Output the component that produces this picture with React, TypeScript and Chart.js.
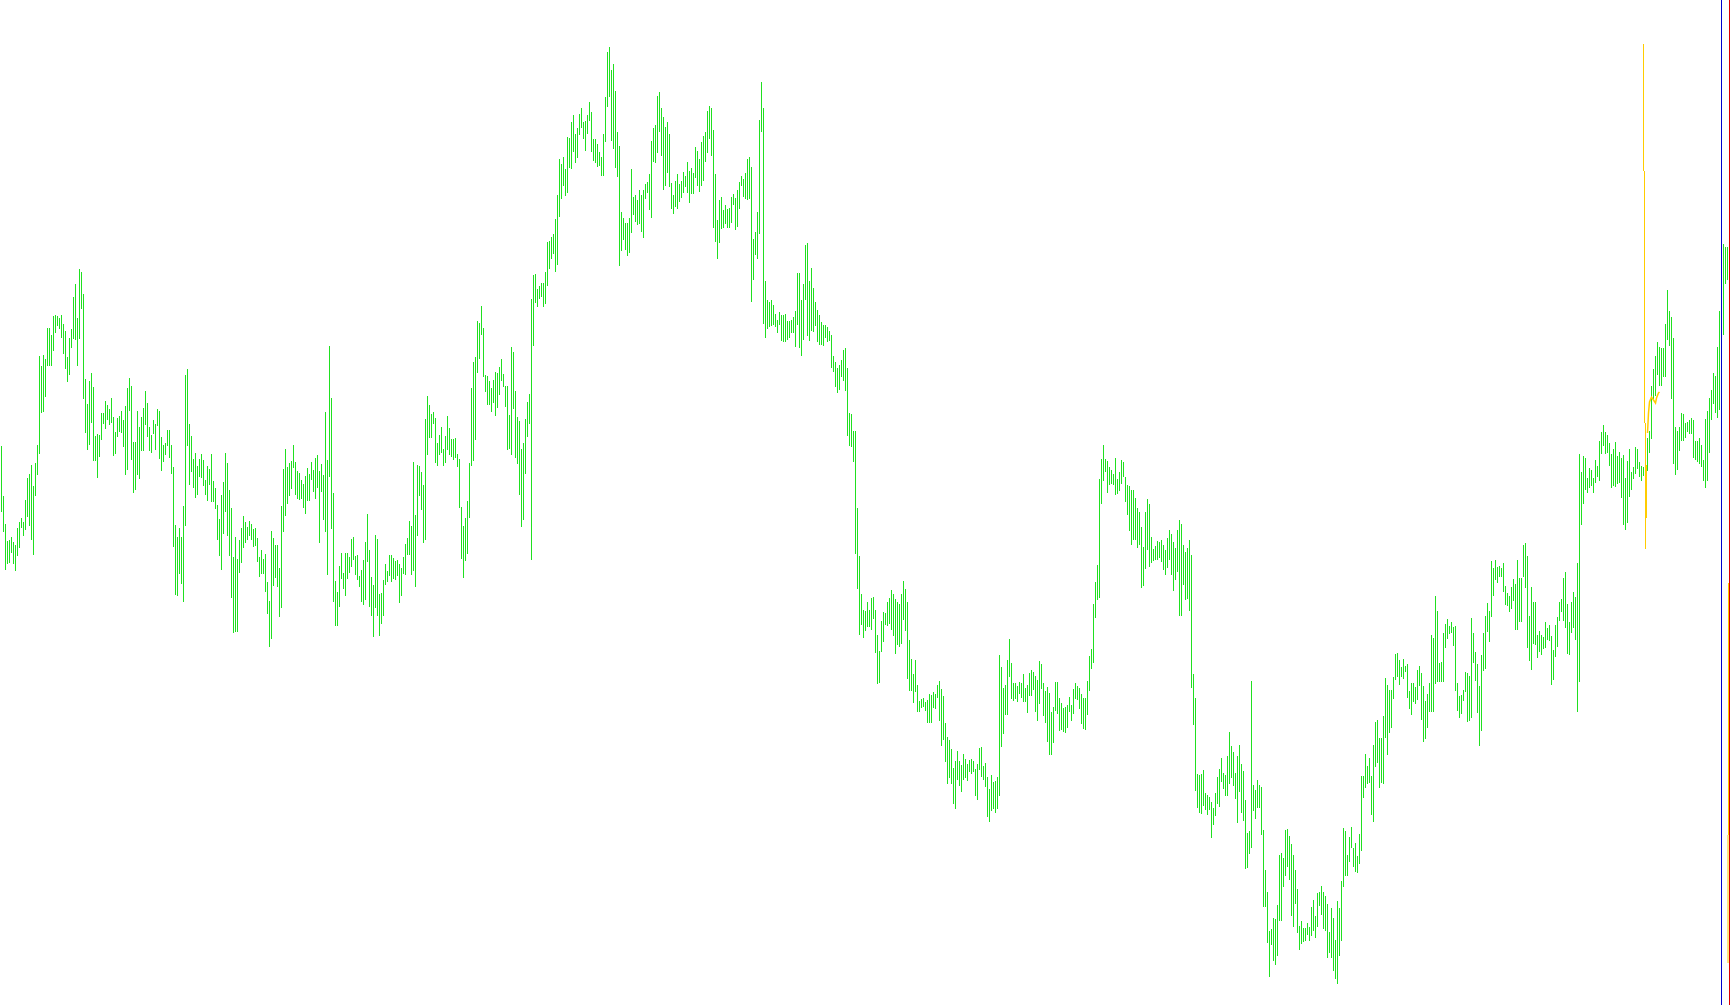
import React, { useEffect, useRef } from "react";
import { Chart, registerables } from "chart.js";

Chart.register(...registerables);

// ---- Bar highs / lows (price points), read left to right, one bar every 2px ----
const highs1 = [554,504,476,459,460,463,458,455,472,478,482,478,500,522,526,535,514,537,555,644,634,645,641,672,672,665,684,685,684,682,685,676,669,643,662,671,703,716,682,731,728,706,621,596,619,627,613,564,566,565,587,587,599,595,591,602,583,568,582,584,589,580,594,612,622,614,558,558,589,573,583,592,609,597,573,565,580,576,591,589,563,555,557,570,570,555,533,475,463,472,463,494,625,631,576,564,541,547,534,541,546,540,520,534,531,546,519,512,495,481,505,518,547,537,510,492,443,463,441,460,472,484,478,473,479,476,471,472,462,443,450,441,446,418,399,469,462,455,455,432,494,531,551,533,537];
const lows1 = [488,468,430,436,437,447,436,429,444,452,472,464,470,483,474,460,445,504,525,546,587,588,603,634,634,634,649,667,674,671,662,646,631,618,625,652,661,660,634,661,691,601,567,550,555,577,539,539,522,543,560,576,571,580,575,577,544,546,563,568,567,553,525,530,589,540,507,510,525,521,549,549,575,563,549,547,566,550,574,541,529,538,545,554,542,526,453,405,404,426,416,398,474,554,515,528,512,502,505,523,522,514,505,499,515,498,498,491,460,444,430,466,488,464,444,402,367,368,368,427,437,452,457,460,464,460,453,454,438,423,426,426,408,386,353,361,414,422,413,383,392,468,484,496,504];

const highs2 = [539,555,538,529,527,520,516,524,532,526,538,530,542,545,529,536,525,588,540,654,602,507,419,408,434,447,427,447,447,443,461,463,444,445,424,430,440,458,486,450,423,415,465,461,406,407,420,436,429,445,445,442,439,440,436,432,443,456,462,479,474,538,485,535,534,528,515,581,604,595,586,588,582,557,565,573,551,564,584,572,561,561,562,546,541,493,474,482,499,537,612,638,643,679,677,694,672,625,624,619,612,620,628,627,633,641,626,614,614,585,653,648,609,583,579,551,557,581,598,606,701,725,726,711,714,717,717,728,758,759,763,766,781,805,841,836,843,831,863,862,878,885,866,872,886];
const lows2 = [511,532,505,501,500,501,492,486,499,499,520,508,501,512,457,508,480,468,425,523,471,398,374,374,393,421,411,404,421,427,433,440,425,420,413,398,395,400,438,393,384,363,392,384,364,376,384,415,418,424,418,421,420,424,397,404,426,425,445,445,425,429,413,464,504,490,457,460,545,562,562,576,537,534,545,547,534,537,550,545,543,540,542,533,492,441,422,439,446,482,534,539,560,627,641,665,623,608,595,595,588,597,584,592,605,619,613,593,550,551,545,591,542,536,505,473,480,526,563,576,440,654,697,693,701,703,693,696,714,731,741,746,728,735,783,801,814,804,807,832,831,848,837,842,865];

const highs3 = [892,878,879,885,898,888,861,861,856,848,843,866,903,948,953,930,936,909,868,854,788,782,777,777,782,831,803,805,800,810,805,810,816,818,826,859,872,875,904,908,892,883,873,878,866,817,805,819,826,816,819,828,824,838,829,832,827,853,849,841,858,864,868,889,894,892,870,826,780,800,803,790,795,791,792,803,806,802,810,818,824,821,827,841,843,833,761,768,788,880,918,892,719,700,698,700,695,686,680,688,685,685,686,679,679,680,683,689,727,727,700,716,755,757,719,732,712,698,690,685,678,675,675,673,669,665,644,638,632,635,640,650,652,632,587,586,569,569,492,444,406,390,389,398,390];
const lows3 = [872,861,849,866,879,848,839,837,833,834,824,824,858,893,903,859,851,832,823,734,749,760,750,744,747,767,785,778,775,776,768,762,801,807,790,782,838,837,847,868,844,810,814,827,813,791,786,793,791,798,802,807,813,807,797,806,806,822,814,808,814,819,838,847,861,844,772,758,741,757,771,772,776,772,772,777,795,770,773,791,814,803,801,800,801,698,720,745,741,766,868,676,662,671,673,674,675,673,667,675,659,658,658,660,662,667,667,653,675,652,644,660,700,664,659,669,668,674,658,655,655,654,662,658,659,632,628,613,607,610,623,619,609,564,554,553,538,446,411,365,375,362,369,373,373];

const highs4 = [402,403,390,365,349,379,388,387,398,402,410,406,401,398,396,406,419,411,398,360,341,326,340,315,299,301,302,298,300,306,305,308,306,315,319,311,304,277,263,260,251,232,239,249,239,235,246,241,236,240,241,239,231,236,252,253,234,237,223,211,225,218,219,223,345,333,312,315,340,361,337,317,317,314,318,317,326,312,315,327,330,328,324,320,339,336,317,309,313,307,288,293,318,318,302,297,292,293,295,303,295,311,317,314,312,306,302,302,319,344,351,396,418,435,521,541,555,541,539,533,530,526,542,521,528,540,538,523,515,514,510,510,502,492,488,473,453,488,501,496,463,451,454,459,458];
const lows4 = [370,381,347,316,317,348,358,375,374,376,370,364,346,355,353,356,380,369,321,309,309,297,308,288,288,292,293,289,277,277,277,292,291,302,279,254,260,238,216,222,216,196,191,220,214,208,220,222,219,228,226,228,204,200,230,223,220,213,183,178,189,191,187,191,204,253,266,285,285,323,301,299,301,298,306,302,298,298,287,304,304,310,288,279,296,311,284,277,258,245,245,257,289,286,269,270,268,267,272,288,279,286,301,300,291,276,271,270,285,309,331,337,382,400,402,496,519,528,507,515,516,515,505,506,509,516,523,498,485,469,455,460,460,452,455,412,414,431,450,433,437,439,440,440,442];

const highs5 = [460,455,450,462,470,466,458,452,470,480,476,455,448,452,460,445,326,302,226,225,226,230,207,205,203,198,192,207,223,231,242,227,225,244,268,254,248,227,244,255,236,229,200,167,169,319,215,210,220,215,213,170,130,108,69,71,82,81,95,145,147,142,170,171,164,156,145,130,111,74,79,72,72,77,73,93,100,84,107,108,114,108,104,96,68,92,82,60,99,92,119,172,169,145,163,173,152,157,144,166,224,224,246,234,242,224,255,278,280,262,262,284,322,315,310,310,323,346,347,340,333,341,334,336,309,317,317,313,330,334,327,314,299,306,317,365,362,404,389,337,338,367,376,381,374];
const lows5 = [438,430,425,432,440,425,409,420,428,384,384,415,400,401,389,312,275,209,192,187,186,194,190,185,190,162,175,184,196,193,218,211,204,204,216,222,214,201,177,208,187,179,131,132,146,152,189,181,192,192,165,93,93,57,23,55,39,35,44,79,79,113,124,133,120,84,73,96,67,50,56,58,59,65,59,64,69,62,73,94,85,71,69,42,47,42,29,21,16,44,59,113,124,124,138,152,133,128,127,136,149,202,212,216,217,185,178,233,237,212,217,216,262,245,267,272,301,320,323,315,323,321,328,302,291,285,298,296,300,314,280,258,261,272,288,288,288,316,318,318,318,318,352,361,366];

const highs6 = [378,373,374,317,304,305,310,328,327,324,382,367,348,336,314,345,367,384,397,389,439,432,440,433,434,432,437,414,407,404,413,421,416,440,422,422,455,457,444,384,413,398,398,365,369,365,363,378,372,375,364,350,375,383,398,401,422,428,396,378,398,408,403,437,546,528,544,542,522,532,530,522,540,534,559,568,575,568,565,557,546,551,558,544,548,542,545,522,539,551,528,533,553,551,538,534,533,531,562,569,614,631,644,658,653,652,652,676,710,689,683,662,573,569,573,587,586,577,578,580,582,580,559,559,562,555,540,581,589,602,610,627,624,653,689,719,756,753,753,750];
const lows6 = [367,354,309,289,282,286,299,308,278,279,282,337,319,287,254,269,329,331,368,358,383,404,420,417,423,423,408,395,394,388,391,399,370,370,378,378,423,412,352,339,330,356,355,342,348,345,351,352,360,359,315,320,343,353,379,388,379,372,346,345,367,372,360,288,318,475,496,510,507,512,514,507,517,523,519,546,554,546,547,534,512,514,513,516,517,502,475,470,477,503,510,521,526,531,523,519,524,519,529,547,561,601,604,625,614,614,623,623,660,654,601,536,525,530,549,559,559,562,568,566,566,542,540,538,536,533,519,512,519,547,580,596,587,582,590,660,665,716,720,722];

const barHighs = [...highs1, ...highs2, ...highs3, ...highs4, ...highs5, ...highs6];
const barLows = [...lows1, ...lows2, ...lows3, ...lows4, ...lows5, ...lows6];

// ---- Orange (current / other-timeframe) bar pieces ----
const orangeWickIdx = [821, 821.5, 822];
const orangeWickHigh = [956, 829, 577];
const orangeWickLow = [829, 577, 451];
const orangeBodyIdx = [822.25];
const orangeBodyHigh = [535];
const orangeBodyLow = [482];
const orangeTrailIdx = [823, 823.5, 824, 825, 826, 827, 827.5, 828.5, 829];
const orangeTrailVals = [567, 587, 598, 603, 600, 597, 602, 607, 608];
const edgeIdx = [863.5, 863.25];
const edgeHigh = [417, 165];
const edgeLow = [165, 37];

// ---- vertical markers ----
const blueMarkerIdx = 860;
const redMarkerIdx = 864;

const PRICE_MIN = -5;
const PRICE_MAX = 1000;
const IDX_MIN = -0.75;
const IDX_MAX = 864.25;

const GREEN = "#20e020";
const ORANGE = "#ffcc00";
const BLUE = "#0000cc";
const RED = "#dd0000";

const markerPlugin = {
  id: "markers",
  afterDatasetsDraw(chart: any) {
    const { ctx, chartArea } = chart;
    const x = chart.scales.x;
    ctx.save();
    const marks: [number, string][] = [
      [blueMarkerIdx, BLUE],
      [redMarkerIdx, RED],
    ];
    marks.forEach(([i, c]) => {
      const px = Math.floor(x.getPixelForValue(i));
      ctx.fillStyle = c;
      ctx.fillRect(px, chartArea.top, 1, chartArea.bottom - chartArea.top);
    });
    ctx.restore();
  },
};

export default function App() {
  const ref = useRef<HTMLCanvasElement>(null);

  useEffect(() => {
    if (!ref.current) return;
    const greenData = barHighs.map((h, i) => ({ x: i, y: [barLows[i], h] }));
    const wickData = orangeWickIdx.map((x, i) => ({ x, y: [orangeWickLow[i], orangeWickHigh[i]] }));
    const bodyData = orangeBodyIdx.map((x, i) => ({ x, y: [orangeBodyLow[i], orangeBodyHigh[i]] }));
    const trailData = orangeTrailIdx.map((x, i) => ({ x, y: orangeTrailVals[i] }));
    const edgeData = edgeIdx.map((x, i) => ({ x, y: [edgeLow[i], edgeHigh[i]] }));

    const barCommon = {
      grouped: false,
      borderWidth: 0,
      inflateAmount: 0,
      barThickness: 1,
    };

    const chart = new Chart(ref.current, {
      type: "bar",
      data: {
        datasets: [
          {
            type: "line",
            data: trailData as any,
            borderColor: ORANGE,
            borderWidth: 1.5,
            pointRadius: 0,
            fill: false,
            tension: 0,
            order: 0,
          } as any,
          { ...barCommon, data: wickData as any, backgroundColor: ORANGE, order: 1 },
          { ...barCommon, data: bodyData as any, backgroundColor: ORANGE, barThickness: 2, order: 1 },
          { ...barCommon, data: edgeData as any, backgroundColor: ORANGE, order: 1 },
          { ...barCommon, data: greenData as any, backgroundColor: GREEN, order: 3 },
        ],
      },
      options: {
        responsive: false,
        maintainAspectRatio: false,
        animation: false,
        devicePixelRatio: 1,
        events: [],
        layout: { padding: 0, autoPadding: false },
        plugins: {
          legend: { display: false },
          tooltip: { enabled: false },
          title: { display: false },
        },
        scales: {
          x: {
            type: "linear",
            min: IDX_MIN,
            max: IDX_MAX,
            offset: false,
            display: false,
          },
          y: {
            type: "linear",
            min: PRICE_MIN,
            max: PRICE_MAX,
            display: false,
          },
        },
      } as any,
      plugins: [markerPlugin],
    });
    return () => chart.destroy();
  }, []);

  return (
    <canvas
      ref={ref}
      width={1730}
      height={1005}
      style={{ position: "fixed", left: 0, top: 0, width: 1730, height: 1005, display: "block", background: "#ffffff" }}
    />
  );
}
